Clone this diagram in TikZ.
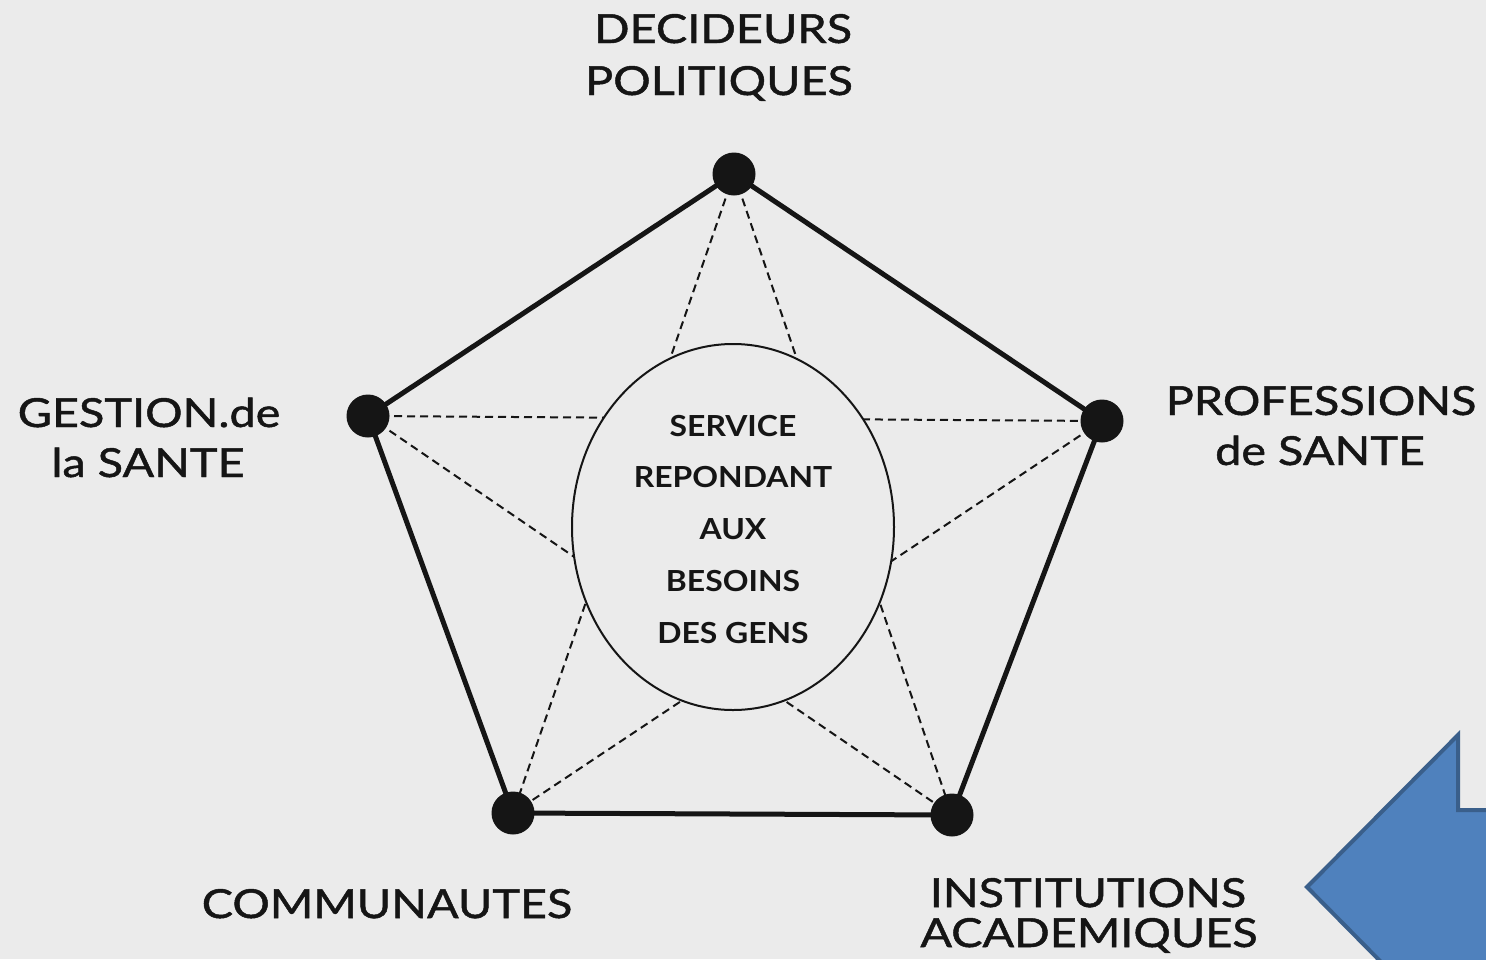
\documentclass[tikz,border=0pt]{standalone}
\usepackage{fontspec}
\setmainfont{Lato}
\newfontfamily\outerfont[FakeStretch=1.17, FakeBold=1.2]{Lato}
\newfontfamily\innerfont[FakeStretch=1.1]{Lato Bold}
\usetikzlibrary{shapes.geometric}
\definecolor{bg}{HTML}{EBEBEB}
\definecolor{ink}{HTML}{151515}
\definecolor{arrowfill}{HTML}{4F81BD}
\definecolor{arrowdraw}{HTML}{3A5F8B}
\tikzset{
  vertex/.style={circle, fill=ink, inner sep=0pt, minimum size=43pt},
  edge/.style={draw=ink, line width=5pt, line join=round},
  starline/.style={draw=ink, line width=2pt, dash pattern=on 8pt off 5pt},
  outer/.style={anchor=base, inner sep=0pt, text=ink, font=\outerfont\fontsize{40}{48}\selectfont},
  inner/.style={anchor=base, inner sep=0pt, text=ink, font=\innerfont\fontsize{29}{35}\selectfont},
  hub/.style={ellipse, draw=ink, fill=bg, line width=2pt, minimum width=322pt, minimum height=366pt, inner sep=0pt},
}
\begin{document}
\begin{tikzpicture}[x=1pt, y=-1pt]
\useasboundingbox (0,0) rectangle (1486,959);
\fill[bg] (0,0) rectangle (1486,959);
% vertex positions
\coordinate (d) at (734,174);
\coordinate (p) at (1102,421);
\coordinate (i) at (952,815);
\coordinate (c) at (513,813);
\coordinate (g) at (368,416);
% star (dashed)
\draw[starline] (g) -- (p);
\draw[starline] (g) -- (i);
\draw[starline] (d) -- (c);
\draw[starline] (d) -- (i);
\draw[starline] (p) -- (c);
% pentagon
\draw[edge] (d) -- (p) -- (i) -- (c) -- (g) -- cycle;
% hub
\node[hub] (E) at (733,527) {};
\node[inner] (t1) at (733,436) {SERVICE};
\node[inner] (t2) at (733,487) {REPONDANT};
\node[inner] (t3) at (733,539) {AUX};
\node[inner] (t4) at (733,591) {BESOINS};
\node[inner] (t5) at (733,643) {DES GENS};
% vertices
\node[vertex] (D) at (d) {};
\node[vertex] (P) at (p) {};
\node[vertex] (I) at (i) {};
\node[vertex] (C) at (c) {};
\node[vertex] (G) at (g) {};
% labels
\node[outer] (l1a) at (723,43) {DECIDEURS};
\node[outer] (l1b) at (719,95) {POLITIQUES};
\node[outer] (l2a) at (1321,415) {PROFESSIONS};
\node[outer] (l2b) at (1320,465) {de SANTE};
\node[outer] (l3a) at (149,427) {GESTION.de};
\node[outer] (l3b) at (148,477) {la SANTE};
\node[outer] (l4) at (387,918) {COMMUNAUTES};
\node[outer] (l5a) at (1088,907) {INSTITUTIONS};
\node[outer] (l5b) at (1089,947) {ACADEMIQUES};
% blue arrow (cut by the frame)
\begin{scope}
\clip (0,0) rectangle (1486,959);
\draw[fill=arrowfill, draw=arrowdraw, line width=4pt, line join=miter]
  (1307,887) -- (1458,735) -- (1458,810) -- (1520,810) -- (1520,964)
  -- (1458,964) -- (1458,1040) -- cycle;
\end{scope}
\end{tikzpicture}
\end{document}
